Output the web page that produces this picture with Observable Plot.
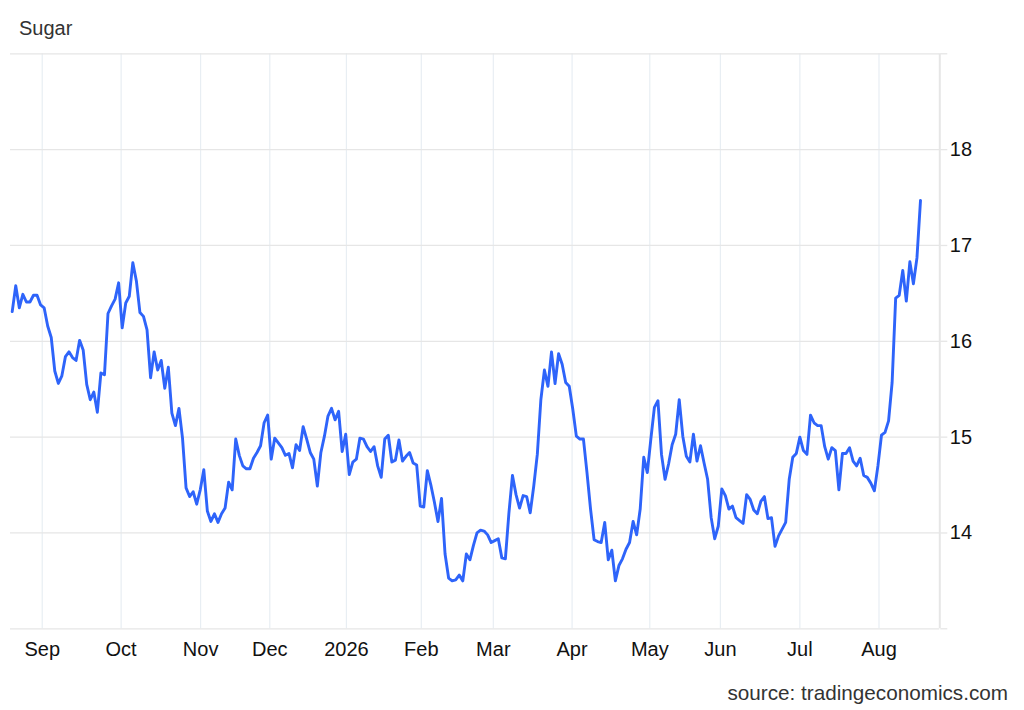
<!DOCTYPE html>
<html>
<head>
<meta charset="utf-8">
<script src="https://cdn.jsdelivr.net/npm/d3@7"></script>
<script src="https://cdn.jsdelivr.net/npm/@observablehq/plot@0.6"></script>
<style>
  html, body { margin: 0; padding: 0; background: #fff; }
  body { width: 1024px; height: 710px; overflow: hidden; position: relative;
         font-family: "Liberation Sans", Arial, Helvetica, sans-serif; }
  #title { position: absolute; left: 19px; top: 18px; font-size: 20px; line-height: 20px; color: #333; }
  #source { position: absolute; right: 16px; top: 683px; font-size: 20.7px; line-height: 20px; color: #333; }
  #chart { position: absolute; left: 0; top: 0; }
</style>
</head>
<body>
<div id="chart"></div>
<div id="title">Sugar</div>
<div id="source">source: tradingeconomics.com</div>
<script>
// Daily sugar price (USc/lb), one value per trading day, Aug 2025 – Aug 2026
const prices = [
  16.31, 16.58, 16.35, 16.49, 16.41, 16.41, 16.48, 16.48, 16.38, 16.35,
  16.16, 16.04, 15.69, 15.56, 15.64, 15.84, 15.89, 15.83, 15.80, 16.01,
  15.91, 15.55, 15.39, 15.47, 15.26, 15.67, 15.65, 16.29, 16.37, 16.44,
  16.61, 16.14, 16.40, 16.47, 16.82, 16.63, 16.30, 16.26, 16.12, 15.62,
  15.89, 15.70, 15.80, 15.51, 15.73, 15.25, 15.12, 15.30, 14.99, 14.47,
  14.38, 14.43, 14.30, 14.45, 14.66, 14.23, 14.12, 14.20, 14.11, 14.20,
  14.26, 14.53, 14.45, 14.98, 14.81, 14.70, 14.67, 14.67, 14.78, 14.84,
  14.91, 15.15, 15.23, 14.77, 14.99, 14.94, 14.89, 14.81, 14.83, 14.68,
  14.92, 14.86, 15.11, 14.98, 14.84, 14.77, 14.49, 14.84, 15.01, 15.22,
  15.30, 15.18, 15.27, 14.85, 15.03, 14.61, 14.74, 14.77, 14.99, 14.98,
  14.90, 14.85, 14.90, 14.70, 14.58, 14.98, 15.02, 14.74, 14.76, 14.97,
  14.75, 14.80, 14.84, 14.73, 14.71, 14.28, 14.27, 14.65, 14.50, 14.32,
  14.12, 14.36, 13.78, 13.53, 13.50, 13.51, 13.56, 13.50, 13.78, 13.72,
  13.87, 14.00, 14.03, 14.02, 13.98, 13.90, 13.92, 13.94, 13.74, 13.73,
  14.21, 14.60, 14.40, 14.26, 14.39, 14.38, 14.21, 14.49, 14.82, 15.39,
  15.70, 15.53, 15.89, 15.56, 15.87, 15.76, 15.57, 15.53, 15.29, 15.01,
  14.98, 14.98, 14.63, 14.25, 13.93, 13.91, 13.90, 14.11, 13.72, 13.82,
  13.50, 13.66, 13.73, 13.83, 13.90, 14.12, 13.98, 14.25, 14.79, 14.63,
  14.98, 15.31, 15.38, 14.82, 14.56, 14.72, 14.92, 15.03, 15.39, 15.01,
  14.80, 14.74, 15.03, 14.75, 14.91, 14.73, 14.56, 14.16, 13.94, 14.07,
  14.46, 14.39, 14.25, 14.28, 14.16, 14.13, 14.10, 14.40, 14.35, 14.24,
  14.20, 14.33, 14.38, 14.15, 14.16, 13.86, 13.97, 14.04, 14.11, 14.56,
  14.79, 14.83, 15.00, 14.86, 14.82, 15.23, 15.15, 15.12, 15.12, 14.90,
  14.77, 14.89, 14.86, 14.45, 14.83, 14.83, 14.89, 14.75, 14.70, 14.78,
  14.60, 14.58, 14.52, 14.44, 14.70, 15.02, 15.05, 15.17, 15.57, 16.45,
  16.48, 16.74, 16.42, 16.83, 16.60, 16.87, 17.47
];

// Month starts, expressed on the trading-day index axis
const monthTickIdx = [8.46, 30.7, 53.1, 72.6, 94.2, 115.3, 135.6, 157.8, 179.7, 199.6, 222.0, 244.3];
const monthLabels  = ["Sep", "Oct", "Nov", "Dec", "2026", "Feb", "Mar", "Apr", "May", "Jun", "Jul", "Aug"];

const yGridTicks = [13, 14, 15, 16, 17, 18, 19];
const yLabelTicks = [14, 15, 16, 17, 18];
const xDomain = [-0.48, 261.44];
const yDomain = [13, 19];

const data = prices.map((v, i) => ({i, v}));

const chart = Plot.plot({
  width: 1024,
  height: 670,
  marginTop: 53.3,
  marginBottom: 41.7,
  marginLeft: 10,
  marginRight: 84.7,
  style: {
    fontFamily: '"Liberation Sans", Arial, Helvetica, sans-serif',
    fontSize: "20px",
    color: "#111",
    background: "white",
    overflow: "visible"
  },
  x: {domain: xDomain},
  y: {domain: yDomain},
  marks: [
    Plot.gridX(monthTickIdx, {stroke: "#e8eef3", strokeOpacity: 1, strokeWidth: 1.2}),
    Plot.gridY(yGridTicks, {stroke: "#e6e6e6", strokeOpacity: 1, strokeWidth: 1.3}),
    Plot.ruleX([xDomain[1]], {stroke: "#e6e6e6", strokeWidth: 2}),
    Plot.axisY(yGridTicks, {
      anchor: "right",
      tickSize: 7,
      tickPadding: 3,
      stroke: "#e6e6e6",
      strokeOpacity: 1,
      strokeWidth: 1.3,
      fill: "#111",
      label: null,
      tickFormat: d => yLabelTicks.includes(d) ? String(d) : ""
    }),
    Plot.axisX(monthTickIdx, {
      anchor: "bottom",
      tickSize: 0,
      tickPadding: 12.5,
      fill: "#111",
      label: null,
      tickFormat: d => monthLabels[monthTickIdx.indexOf(d)]
    }),
    Plot.lineY(data, {
      x: "i",
      y: "v",
      stroke: "#2e64fa",
      strokeWidth: 2.9,
      strokeLinejoin: "round",
      strokeLinecap: "round"
    })
  ]
});

document.getElementById("chart").appendChild(chart);
</script>
</body>
</html>
